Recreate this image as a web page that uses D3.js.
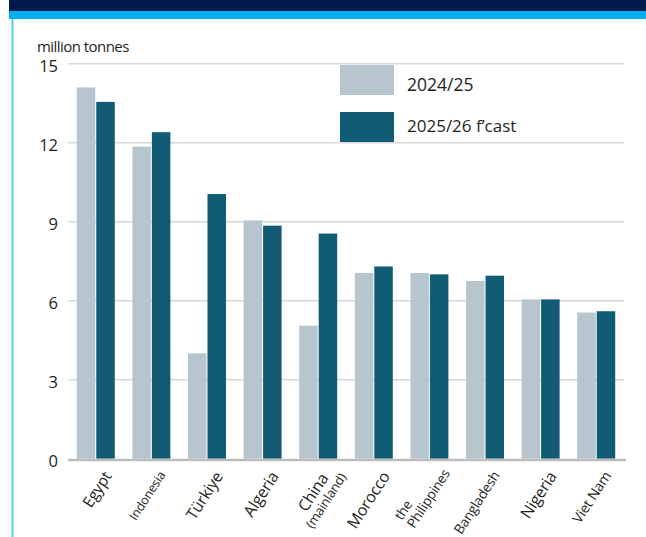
<!DOCTYPE html>
<html>
<head>
<meta charset="utf-8">
<script src="https://cdn.jsdelivr.net/npm/d3@7"></script>
<style>
  body { margin: 0; background: #fff; }
  svg { display: block; font-family: "Open Sans", "Noto Sans", sans-serif; }
</style>
</head>
<body>
<div id="chart"></div>
<script>
// data
const countries = ["Egypt", "Indonesia", "Türkiye", "Algeria", "China (mainland)", "Morocco",
  "the Philippines", "Bangladesh", "Nigeria", "Viet Nam"];
const series = ["2024/25", "2025/26 f\u2019cast"];
const values2425 = [14.1, 11.85, 4.0, 9.05, 5.05, 7.05, 7.05, 6.75, 6.05, 5.55];
const values2526 = [13.55, 12.4, 10.05, 8.85, 8.55, 7.3, 7.0, 6.95, 6.05, 5.6];
const yTicks = [0, 3, 6, 9, 12, 15];

// how each axis label is broken and sized (style only)
const labelStyle = {
  "Egypt": {lines: ["Egypt"], size: 15.5, align: "end"},
  "Indonesia": {lines: ["Indonesia"], size: 12.5, align: "end"},
  "Türkiye": {lines: ["Türkiye"], size: 16, align: "end"},
  "Algeria": {lines: ["Algeria"], size: 16, align: "end"},
  "China (mainland)": {lines: ["China", "(mainland)"], size: [16, 13], align: "middle", du: 6, dv: -4},
  "Morocco": {lines: ["Morocco"], size: 16, align: "end"},
  "the Philippines": {lines: ["the", "Philippines"], size: 13.5, align: "start", du: 5, dv: -11},
  "Bangladesh": {lines: ["Bangladesh"], size: 13.5, align: "end"},
  "Nigeria": {lines: ["Nigeria"], size: 16, align: "end"},
  "Viet Nam": {lines: ["Viet Nam"], size: 14, align: "end"}
};

const W = 646, H = 537;
const colors = ["#b7c5ce", "#115b74"];
const textColor = "#231f20";

const svg = d3.select("#chart").append("svg")
    .attr("width", W)
    .attr("height", H);

// header strip (title cut off above) and side rule
svg.append("rect").attr("x", 9).attr("y", 0).attr("width", W - 9).attr("height", 11).attr("fill", "#001a4b");
svg.append("rect").attr("x", 9).attr("y", 11).attr("width", W - 9).attr("height", 8).attr("fill", "#00aeef");
svg.append("line").attr("x1", 12.5).attr("x2", 12.5).attr("y1", 19).attr("y2", H)
    .attr("stroke", "#5bc8f2").attr("stroke-width", 2);

const plot = {left: 68, right: 624, top: 63.7, bottom: 458.7};

const x = d3.scaleBand().domain(countries)
    .range([plot.left, plot.right])
    .paddingInner(0.317).paddingOuter(0.158);
const xs = d3.scaleBand().domain(series).range([0, x.bandwidth()]);
const y = d3.scaleLinear().domain([0, 15]).range([plot.bottom, plot.top]);

// gridlines + y labels
const yAxis = svg.append("g");
yAxis.selectAll("line").data(yTicks.filter(d => d > 0)).join("line")
    .attr("x1", plot.left).attr("x2", plot.right)
    .attr("y1", d => y(d)).attr("y2", d => y(d))
    .attr("stroke", "#d8d8d8").attr("stroke-width", 1.5);
yAxis.selectAll("text").data(yTicks).join("text")
    .attr("x", 58).attr("y", d => y(d) + 8)
    .attr("text-anchor", "end")
    .attr("font-size", 16.5).attr("fill", textColor)
    .text(d => d);

svg.append("text").attr("x", 37).attr("y", 52)
    .attr("font-size", 15).attr("letter-spacing", -0.55).attr("fill", textColor)
    .text("million tonnes");

// bars
const rows = countries.map((c, i) => ({country: c, vals: [values2425[i], values2526[i]]}));
const groups = svg.selectAll(".grp").data(rows).join("g")
    .attr("class", "grp")
    .attr("transform", d => "translate(" + x(d.country) + ",0)");
groups.selectAll("rect").data(d => d.vals.map((v, j) => ({key: series[j], v: v, j: j}))).join("rect")
    .attr("x", d => xs(d.key) + (d.j ? 0.5 : 0))
    .attr("width", d => xs.bandwidth() - 0.5)
    .attr("y", d => y(d.v))
    .attr("height", d => y(0) - y(d.v))
    .attr("fill", d => colors[d.j]);

// baseline
svg.append("line").attr("x1", plot.left).attr("x2", plot.right + 2)
    .attr("y1", plot.bottom + 1.3).attr("y2", plot.bottom + 1.3)
    .attr("stroke", "#bdbdbd").attr("stroke-width", 2.5);

// rotated category labels
const lab = svg.selectAll(".lab").data(countries).join("g")
    .attr("class", "lab")
    .attr("transform", d => "translate(" + (x(d) + x.bandwidth() / 2 + 7) + ",470) rotate(-57)");
lab.each(function(d) {
  const st = labelStyle[d];
  const g = d3.select(this);
  const du = st.du || 0, dv = st.dv || 0;
  let yy = dv;
  const texts = st.lines.map((line, i) => {
    const fs = Array.isArray(st.size) ? st.size[i] : st.size;
    yy += (i === 0 ? fs * 0.72 : fs * 1.1);
    return g.append("text").attr("y", yy)
        .attr("font-size", fs).attr("fill", textColor)
        .attr("letter-spacing", -0.2)
        .text(line);
  });
  const maxLen = d3.max(texts, t => t.node().getComputedTextLength());
  texts.forEach(t => {
    if (st.align === "end") t.attr("text-anchor", "end").attr("x", du);
    else if (st.align === "middle") t.attr("text-anchor", "middle").attr("x", du - maxLen / 2);
    else t.attr("text-anchor", "start").attr("x", du - maxLen);
  });
});

// legend
const legend = svg.append("g");
series.forEach((s, i) => {
  legend.append("rect").attr("x", 340).attr("y", 65 + i * 47)
      .attr("width", 54).attr("height", 30).attr("fill", colors[i]);
  legend.append("text").attr("x", 407).attr("y", 91 + i * 41)
      .attr("font-size", i ? 17 : 17.5).attr("fill", textColor)
      .text(s);
});
</script>
</body>
</html>
